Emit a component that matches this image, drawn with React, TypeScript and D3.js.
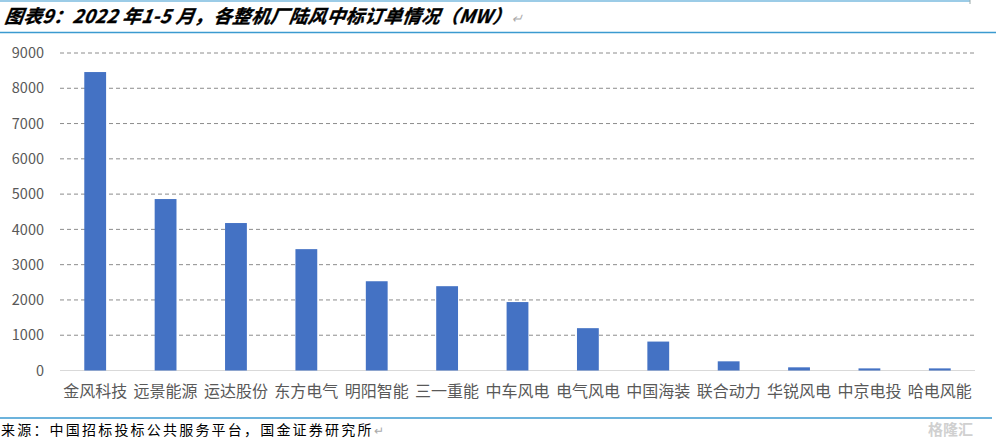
import React from "react";
import * as d3 from "d3";

const categories = ["金风科技", "远景能源", "运达股份", "东方电气", "明阳智能", "三一重能", "中车风电", "电气风电", "中国海装", "联合动力", "华锐风电", "中京电投", "哈电风能"];
const values = [8460, 4860, 4180, 3440, 2530, 2390, 1940, 1200, 820, 260, 90, 60, 60];
const yTicks = [0, 1000, 2000, 3000, 4000, 5000, 6000, 7000, 8000, 9000];
const titleText = "图表9：2022 年1-5 月，各整机厂陆风中标订单情况（MW）";
const sourceText = "来源：中国招标投标公共服务平台，国金证券研究所";

const W = 996;
const H = 443;
const plot = { left: 60, right: 975, top: 53, bottom: 370.5 };

export default function App() {
  const x = d3.scaleBand<string>().domain(categories).range([plot.left, plot.right]).paddingInner(0.69).paddingOuter(0.345);
  const y = d3.scaleLinear().domain([0, 9000]).range([plot.bottom, plot.top]);
  const font = "'Noto Sans CJK SC', 'Noto Sans', sans-serif";
  return (
    <svg width={W} height={H} style={{ position: "absolute", left: 0, top: 0, background: "#fff" }} fontFamily={font}>
      <line x1={0} x2={970} y1={1} y2={1} stroke="#3b9ad0" strokeWidth={1.2} />
      <line x1={970} x2={970} y1={0} y2={4} stroke="#9aa" strokeWidth={1} />
      <text x={4} y={23} fontSize={18.5} fontWeight="bold" fontStyle="italic" fill="#000" stroke="#000" strokeWidth={0.35} letterSpacing={0.4} style={{ transform: "skewX(-8deg)", transformOrigin: "4px 23px" }}>
        {titleText}
        <tspan fill="#aaa" stroke="none" fontWeight="normal" fontSize={13}>↵</tspan>
      </text>
      <line x1={0} x2={996} y1={32.5} y2={32.5} stroke="#3b9ad0" strokeWidth={1.5} />
      {yTicks.filter((t) => t > 0).map((t) => (
        <line key={"g" + t} x1={plot.left} x2={plot.right} y1={y(t)} y2={y(t)} stroke="#8c8c8c" strokeWidth={1} strokeDasharray="4,3" />
      ))}
      <line x1={plot.left} x2={plot.right} y1={y(0)} y2={y(0)} stroke="#d9d9d9" strokeWidth={1.2} />
      {yTicks.map((t) => (
        <text key={"t" + t} x={44} y={y(t)} dy="0.36em" textAnchor="end" fontSize={14.5} fill="#595959">
          {t}
        </text>
      ))}
      {categories.map((c, i) => (
        <rect key={c} x={x(c)} y={y(values[i])} width={x.bandwidth()} height={y(0) - y(values[i])} fill="#4472c4" />
      ))}
      {categories.map((c) => (
        <text key={"l" + c} x={(x(c) as number) + x.bandwidth() / 2} y={391} dy="0.36em" textAnchor="middle" fontSize={16} fill="#595959">
          {c}
        </text>
      ))}
      <line x1={0} x2={992} y1={418} y2={418} stroke="#3b9ad0" strokeWidth={1.5} />
      <text x={1} y={435} fontSize={14} fill="#000" letterSpacing={2.2}>
        {sourceText}
        <tspan fill="#aaa" fontSize={12}>↵</tspan>
      </text>
      <text x={928} y={435} fontSize={15} fill="#d0d0d0" fontWeight="bold">格隆汇</text>
    </svg>
  );
}
